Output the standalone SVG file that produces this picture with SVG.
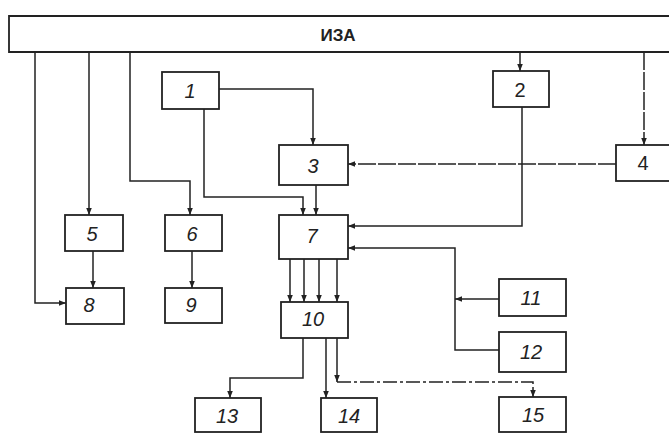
<svg xmlns="http://www.w3.org/2000/svg" width="669" height="435" viewBox="0 0 669 435">
<style>
  .box { fill: #fff; stroke: #222; stroke-width: 1.8; }
  .lbl { font-family: "Liberation Sans Narrow", "Liberation Sans", sans-serif; font-style: italic; font-size: 20px; fill: #222; text-anchor: middle; dominant-baseline: central; }
  .title { font-family: "Liberation Sans Narrow", "Liberation Sans", sans-serif; font-size: 17px; font-weight: bold; fill: #222; text-anchor: middle; dominant-baseline: central; }
  .c { fill: none; stroke: #222; stroke-width: 1.5; marker-end: url(#ah); }
  .d { stroke-dasharray: 18 2; }
  .dd { stroke-dasharray: 14 3 3 3; }
</style>
<defs>
  <marker id="ah" viewBox="0 0 10 10" refX="10" refY="5" markerWidth="7" markerHeight="7" markerUnits="userSpaceOnUse" orient="auto">
    <path d="M0,1 L10,5 L0,9 Z" fill="#222"/>
  </marker>
</defs>
<rect width="669" height="435" fill="#fff"/>

<g id="connectors">
  <path class="c" d="M35,52 V303 H66"/>
  <path class="c" d="M89,52 V215"/>
  <path class="c" d="M130,52 V181 H190 V215"/>
  <path class="c" d="M520,52 V71"/>
  <path class="c d" d="M644,52 V145"/>
  <path class="c" d="M219,89 H313 V145"/>
  <path class="c" d="M204,109 V197 H303 V215"/>
  <path class="c" d="M316,185 V215"/>
  <path class="c d" d="M616,164 H348"/>
  <path class="c" d="M522,107 V226 H348"/>
  <path class="c" d="M499,299 H455"/>
  <path class="c" d="M499,350 H455 V248 H348"/>
  <path class="c" d="M93,251 V288"/>
  <path class="c" d="M192,251 V288"/>
  <path class="c" d="M290,259 V302"/>
  <path class="c" d="M304,259 V302"/>
  <path class="c" d="M319,259 V302"/>
  <path class="c" d="M337,259 V302"/>
  <path class="c" d="M303,338 V378 H230 V398"/>
  <path class="c" d="M326,338 V398"/>
  <path class="c" d="M337,338 V382"/>
  <path class="c dd" d="M337,382 H533 V397"/>
</g>

<g id="IZA">
  <path class="box" d="M680,16 H9 V52 H680"/>
  <text class="title" x="338" y="35">ИЗА</text>
</g>
<g id="n1"><rect class="box" x="162" y="72" width="57" height="37"/><text class="lbl" x="190" y="91">1</text></g>
<g id="n2"><rect class="box" x="493" y="71" width="56" height="36"/><text class="lbl" x="520" y="90" style="font-style:normal">2</text></g>
<g id="n3"><rect class="box" x="279" y="145" width="69" height="40"/><text class="lbl" x="313" y="166">3</text></g>
<g id="n4"><rect class="box" x="616" y="145" width="70" height="36"/><text class="lbl" x="643" y="163" style="font-style:normal">4</text></g>
<g id="n5"><rect class="box" x="65" y="215" width="58" height="36"/><text class="lbl" x="92" y="234">5</text></g>
<g id="n6"><rect class="box" x="165" y="215" width="57" height="36"/><text class="lbl" x="192" y="234">6</text></g>
<g id="n7"><rect class="box" x="279" y="215" width="69" height="44"/><text class="lbl" x="312" y="236">7</text></g>
<g id="n8"><rect class="box" x="66" y="288" width="58" height="36"/><text class="lbl" x="89" y="305">8</text></g>
<g id="n9"><rect class="box" x="165" y="288" width="57" height="35"/><text class="lbl" x="191" y="305">9</text></g>
<g id="n10"><rect class="box" x="281" y="302" width="67" height="36"/><text class="lbl" x="313" y="319">10</text></g>
<g id="n11"><rect class="box" x="499" y="279" width="67" height="37"/><text class="lbl" x="531" y="298">11</text></g>
<g id="n12"><rect class="box" x="499" y="332" width="67" height="40"/><text class="lbl" x="531" y="352">12</text></g>
<g id="n13"><rect class="box" x="195" y="398" width="66" height="34"/><text class="lbl" x="227" y="416">13</text></g>
<g id="n14"><rect class="box" x="321" y="398" width="56" height="34"/><text class="lbl" x="349" y="416">14</text></g>
<g id="n15"><rect class="box" x="499" y="397" width="67" height="35"/><text class="lbl" x="533" y="415">15</text></g>
</svg>
